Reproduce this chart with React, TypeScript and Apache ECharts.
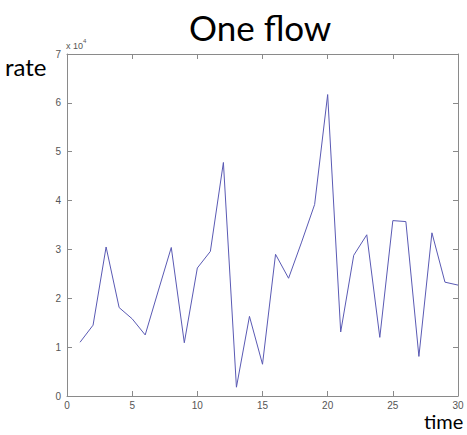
import React, { useEffect, useRef } from "react";
import * as echarts from "echarts";

const times = [1,2,3,4,5,6,7,8,9,10,11,12,13,14,15,16,17,18,19,20,21,22,23,24,25,26,27,28,29,30];
const rates = [11000,14500,30500,18100,15800,12500,21500,30400,10900,26200,29600,47800,1800,16300,6500,29000,24100,31500,39200,61700,13100,28800,33000,12000,35900,35700,8100,33400,23300,22700];
const xTicks = [0,5,10,15,20,25,30];
const yTickLabels = ["0","1","2","3","4","5","6","7"];

export default function App() {
  const ref = useRef<HTMLDivElement>(null);
  useEffect(() => {
    const chart = echarts.init(ref.current!, null, { renderer: "svg" });
    const axisLine = { show: true, onZero: false, lineStyle: { color: "#8a8a8a", width: 1 } };
    const tick = { show: true, inside: true, length: 5, lineStyle: { color: "#8a8a8a" } };
    const label = { color: "#555", fontSize: 10, fontFamily: "Liberation Sans" };
    chart.setOption({
      animation: false,
      backgroundColor: "#fff",
      title: {
        text: "One flow",
        left: 184,
        top: 4,
        textStyle: { fontFamily: "Lato", fontSize: 35, fontWeight: "normal", color: "#000" },
      },
      graphic: [
        { type: "text", left: 5, top: 54, style: { text: "rate", font: "24px Lato", fill: "#000" } },
        { type: "text", left: 424, top: 411, style: { text: "time", fontFamily: "Lato", fontSize: 20, fill: "#000" } },
        {
          type: "text", left: 66, top: 38,
          style: {
            text: "{a|x 10}{b|4}",
            rich: {
              a: { fontSize: 9, fill: "#555", fontFamily: "Liberation Sans", verticalAlign: "bottom" },
              b: { fontSize: 6, fill: "#555", fontFamily: "Liberation Sans", verticalAlign: "top", padding: [0, 0, 6, 0] },
            },
          },
        },
      ],
      grid: { left: 67, right: 9, top: 54, bottom: 39, containLabel: false },
      xAxis: [
        {
          type: "value", min: xTicks[0], max: xTicks[xTicks.length - 1], interval: 5,
          axisLine, axisTick: tick, splitLine: { show: false },
          axisLabel: { ...label, margin: 4 },
        },
        {
          type: "value", position: "top", min: 0, max: 30, interval: 5,
          axisLine, axisTick: tick, splitLine: { show: false }, axisLabel: { show: false },
        },
      ],
      yAxis: [
        {
          type: "value", min: 0, max: 70000, interval: 10000,
          axisLine, axisTick: tick, splitLine: { show: false },
          axisLabel: { ...label, margin: 6, formatter: (v: number) => yTickLabels[Math.round(v / 10000)] },
        },
        {
          type: "value", position: "right", min: 0, max: 70000, interval: 10000,
          axisLine, axisTick: tick, splitLine: { show: false }, axisLabel: { show: false },
        },
      ],
      series: [
        {
          type: "line",
          data: times.map((t, i) => [t, rates[i]]),
          symbol: "none",
          lineStyle: { color: "#5a5ab4", width: 1 },
        },
      ],
    });
    return () => chart.dispose();
  }, []);
  return <div ref={ref} style={{ width: 467, height: 435, position: "absolute", left: 0, top: 0 }} />;
}
